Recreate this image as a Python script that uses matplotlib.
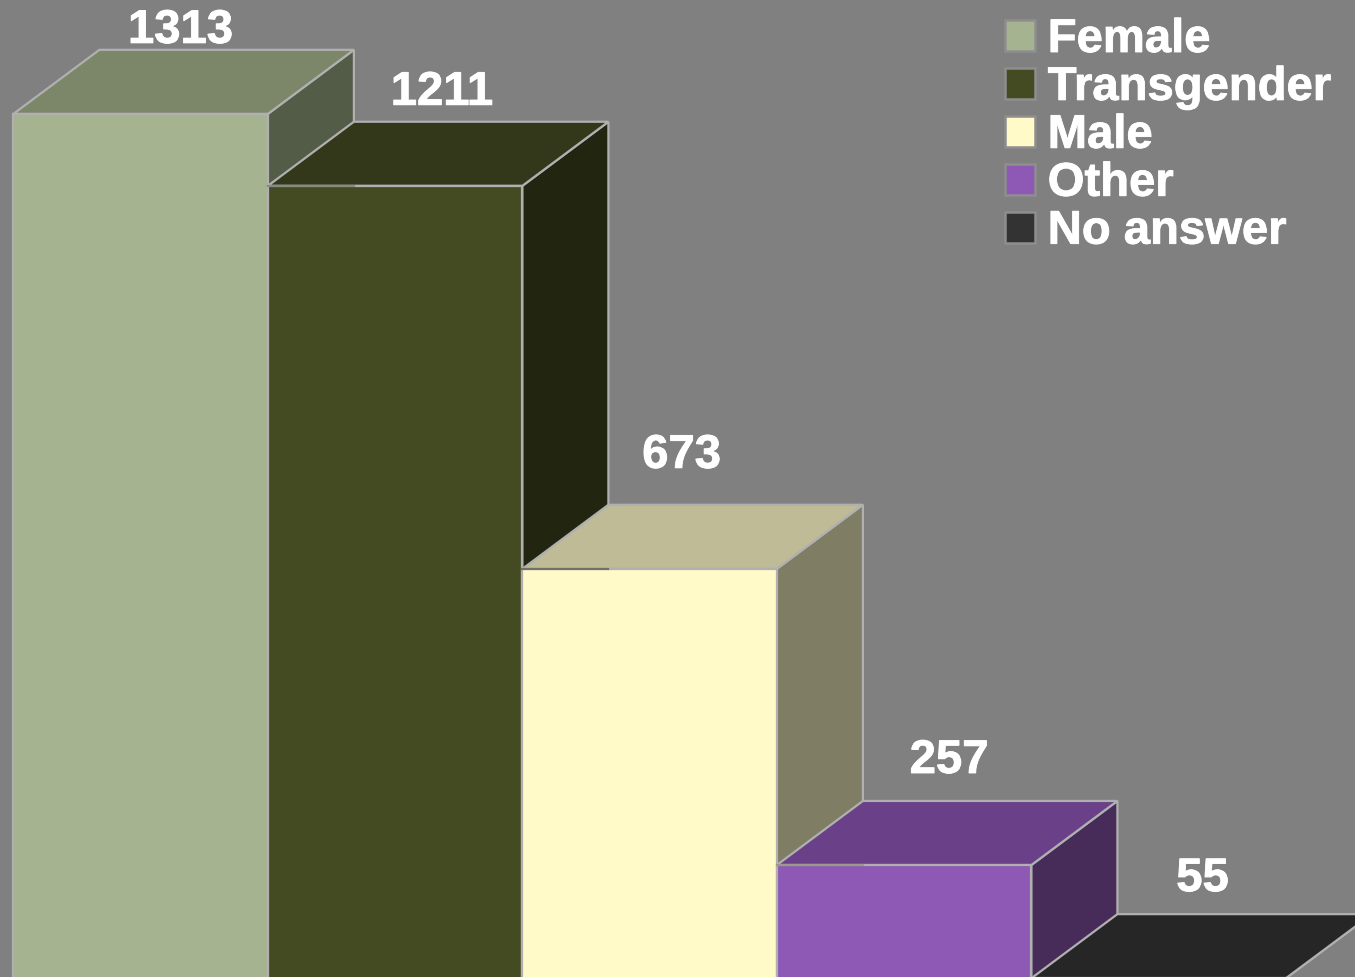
import matplotlib
matplotlib.use('Agg')
import matplotlib.pyplot as plt
import matplotlib.patheffects as pe
from matplotlib.patches import Patch, Polygon

plt.rcParams['font.family'] = ['Liberation Sans', 'DejaVu Sans']

# Chart data.
categories = ['Female', 'Transgender', 'Male', 'Other', 'No answer']
values = [1313, 1211, 673, 257, 55]

# Heights as the bars are actually drawn in the picture (the last one is
# taller than its label says).
bar_heights = [1312, 1211, 673, 257, 98]

# Colours of each bar's faces. The last bar's side blends into the background.
front_colors = ['#A6B391', '#444B23', '#FFFAC8', '#8E58B5', '#333333']
top_colors = ['#7C8769', '#33381A', '#BFBB96', '#6A4188', '#262626']
side_colors = ['#535C47', '#222611', '#7F7D64', '#472C5A', '#808080']

# Label offsets from the top middle of each front face, in pixels.
label_dx = [40, 47, 32, 45, 44]
label_dy = [71, 81, 101, 92, 87]

EDGE = '#B0B0B0'
DEPTH_X = 0.338
DEPTH_Y = 90

# Slight stroke to get the heavier look of the original bold text.
heavy = [pe.withStroke(linewidth=0.6, foreground='white')]

fig = plt.figure(figsize=(13.55, 9.77), dpi=100, facecolor='#808080')
ax = fig.add_axes([0, 0, 1, 1])
ax.set_xlim(-0.0525, 5.2715)
ax.set_ylim(99.7, 1472)
ax.axis('off')

# Draw left to right so each bar covers the side of the one before it.
for i, height in enumerate(bar_heights):
    side = [(i + 1, 0), (i + 1 + DEPTH_X, DEPTH_Y), (i + 1 + DEPTH_X, height + DEPTH_Y), (i + 1, height)]
    top = [(i, height), (i + DEPTH_X, height + DEPTH_Y), (i + 1 + DEPTH_X, height + DEPTH_Y), (i + 1, height)]
    ax.add_patch(Polygon(side, facecolor=side_colors[i], edgecolor=EDGE, linewidth=1.6))
    ax.add_patch(Polygon(top, facecolor=top_colors[i], edgecolor=EDGE, linewidth=1.6))
    ax.bar(i, height, width=1, align='edge', color=front_colors[i], edgecolor=EDGE, linewidth=1.6)

    # Darker stretch of edge where the previous bar's side meets this bar.
    if i > 0:
        ax.plot([i, i + DEPTH_X], [height, height], color=side_colors[i - 1], alpha=0.45, linewidth=1.6)

    ax.annotate(str(values[i]), xy=(i + 0.5, height), xytext=(label_dx[i], label_dy[i]),
                xycoords='data', textcoords='offset pixels', ha='center', va='baseline',
                color='white', fontsize=34, fontweight='bold', annotation_clip=False,
                path_effects=heavy)

handles = [Patch(facecolor=c, edgecolor='#8E8E8E', linewidth=1.8) for c in front_colors]
legend = ax.legend(handles, categories, loc='upper left', bbox_to_anchor=(1005 / 1355, 1 - 18 / 977),
                   frameon=False, borderpad=0, borderaxespad=0, labelspacing=0.083,
                   handlelength=0.635, handleheight=0.635, handletextpad=0.27,
                   prop={'size': 34, 'weight': 'bold'}, labelcolor='white')
for text in legend.get_texts():
    text.set_path_effects(heavy)

fig.savefig('out.png', dpi=100, facecolor=fig.get_facecolor())
